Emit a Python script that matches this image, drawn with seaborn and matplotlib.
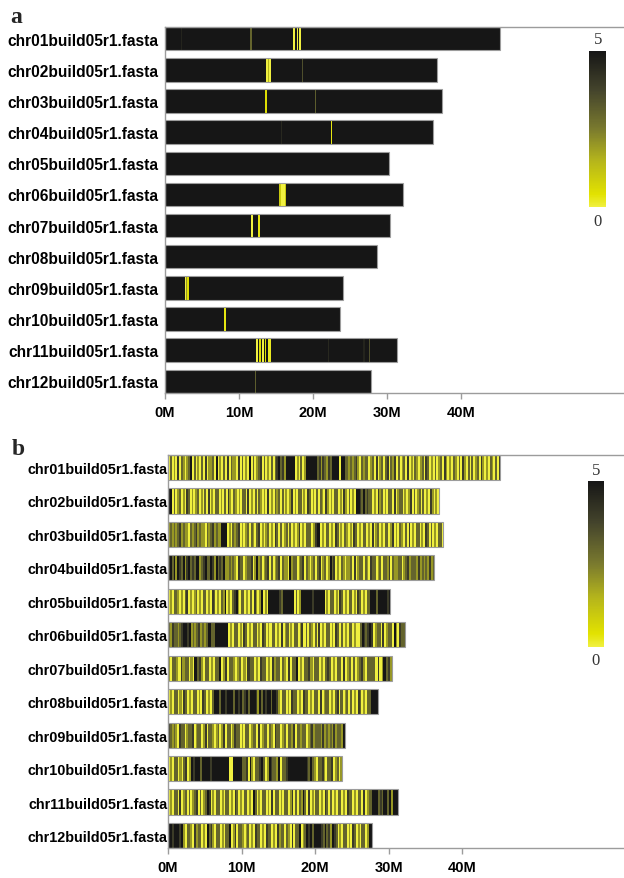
import numpy as np
import matplotlib
matplotlib.use("Agg")
import matplotlib.pyplot as plt
from matplotlib.colors import LinearSegmentedColormap
from matplotlib.patches import Rectangle
import seaborn as sns

# ---------------------------------------------------------------- data
CHROMS = [
    "chr01build05r1.fasta", "chr02build05r1.fasta", "chr03build05r1.fasta",
    "chr04build05r1.fasta", "chr05build05r1.fasta", "chr06build05r1.fasta",
    "chr07build05r1.fasta", "chr08build05r1.fasta", "chr09build05r1.fasta",
    "chr10build05r1.fasta", "chr11build05r1.fasta", "chr12build05r1.fasta",
]
CHROM_LEN_MB = [45.2, 36.8, 37.4, 36.2, 30.2, 32.2, 30.4, 28.6, 24.0, 23.7, 31.3, 27.8]

X_TICKS_MB = [0, 10, 20, 30, 40]
X_TICK_LABELS = ["0M", "10M", "20M", "30M", "40M"]
SCALE_MIN, SCALE_MAX = 0, 5

# panel a: background level plus the few windows that depart from it
A_BACKGROUND = 5.0
A_STRIPES = [
    [(2.2, 2.35, 4.6), (11.5, 11.7, 3.0), (17.25, 17.55, 0.0),
     (17.8, 17.95, 0.0), (18.1, 18.4, 0.0)],
    [(13.7, 13.9, 0.0), (13.9, 14.0, 1.5), (14.0, 14.3, 0.0), (18.45, 18.6, 3.5)],
    [(13.5, 13.8, 0.5), (20.2, 20.35, 3.2)],
    [(15.7, 15.85, 4.5), (22.4, 22.6, 0.3)],
    [],
    [(15.45, 15.7, 1.0), (15.7, 16.15, 0.0), (16.15, 16.35, 1.0)],
    [(11.6, 11.85, 0.0), (12.5, 12.8, 0.3)],
    [],
    [(2.7, 2.9, 0.0), (2.9, 3.0, 2.0), (3.0, 3.2, 0.5)],
    [(8.0, 8.25, 0.3)],
    [(12.25, 12.6, 0.0), (12.75, 12.95, 0.5), (13.1, 13.35, 0.0),
     (13.5, 13.7, 0.5), (13.85, 14.3, 0.2), (22.0, 22.15, 4.5),
     (26.8, 26.95, 4.6), (27.5, 27.65, 3.5)],
    [(12.1, 12.25, 3.2)],
]

# panel b: one level (0-5) per window along each chromosome
B_PROFILES = [
    "0302040320235030203040223050203040322040302050302340302030"
    "3453425" "5555" "020302" "555555" "34243243" "5555" "0" "55"
    "3323234203233023040230340324030230402032023043020302304202032030420303023042020320304",
    "55"
    "030230204302023020304020330203042032020330402030320204020323030202402033020430203032042020330204203020"
    "5543534"
    "330204230203304023302024030230302042020",
    "23232342322032342322032342322"
    "555"
    "0203234020230320340202302043030230302024020333024"
    "55"
    "0203302043020320204302033020402302033024020320304020330204303020330",
    "45352543524534355234533542534352"
    "23232043302334025230234030234032205233023403202303402302534020320223040233032043302303324032233023423332423232423",
    "0203320203402023020330204302032502034520330203042025020"
    "55555543555555" "0302" "5555554555555"
    "0203302043020330204302033"
    "55535555545",
    "32433234" "5545" "232342323" "55" "33" "5555555"
    "0203302043020330204302033020402302033024030320304020330204303020330200"
    "3543454"
    "02330402330520433",
    "20332042330205342033020335024033202302043302043302042330320403350203342033020343020330402303023420333304025342",
    "020330204302033020430203"
    "5553554555355453453555425354553554"
    "2033020433020433020330402330203403023030204302033"
    "5555",
    "432320433023340233024033202302403302433020330233040233032043302303324033233023423332423232423325",
    "020330203402" "54555355554555555555" "00" "55555"
    "334052033453025433250334" "5555555555" "4353203342033402302",
    "02033040230302340302354020330203302043020330205302033020403302033024030325304020330204303020330204330203304023"
    "355534355352555",
    "55455545"
    "203320423302053420330203350240332023020433020433020423303204033502"
    "354535555435342543"
    "0203302043020330255",
]

# ---------------------------------------------------------------- layout
RES = 0.05          # Mb per heatmap column
X_MAX_MB = 62.0
N_COL = int(round(X_MAX_MB / RES))
SUB = 4             # sub-rows per chromosome (3 drawn, 1 gap)

cmap = LinearSegmentedColormap.from_list(
    "dens",
    [(0.0, "#f0f040"), (0.08, "#e2e200"), (0.3, "#b4b41c"),
     (0.5, "#7a7a2e"), (0.75, "#44442c"), (1.0, "#161616")],
)


def grid_from_rows(rows):
    grid = np.full((12 * SUB - 1, N_COL), np.nan)
    for i, vals in enumerate(rows):
        grid[SUB * i:SUB * i + 3, :len(vals)] = vals
    return grid


def rows_panel_a():
    rows = []
    for L, stripes in zip(CHROM_LEN_MB, A_STRIPES):
        n = int(round(L / RES))
        vals = np.full(n, A_BACKGROUND)
        for s, e, v in stripes:
            vals[int(round(s / RES)):int(round(e / RES))] = v
        rows.append(vals)
    return rows


def rows_panel_b():
    rows = []
    for L, prof in zip(CHROM_LEN_MB, B_PROFILES):
        levels = np.array([float(c) for c in prof])
        n = int(round(L / RES))
        idx = (np.arange(n) * len(levels) // n).astype(int)
        rows.append(levels[idx])
    return rows


sns.set_theme(style="white")
plt.rcParams["font.family"] = ["Liberation Sans", "DejaVu Sans"]

fig = plt.figure(figsize=(6.24, 8.79), dpi=100)

panels = [
    dict(rows=rows_panel_a(), rect=[165 / 624, 1 - 394 / 879, 459 / 624, 366 / 879],
         cbar=[589 / 624, 1 - 208 / 879, 17 / 624, 156 / 879],
         tag="a", tag_xy=(10 / 624, 1 - 23 / 879), ylab_pad=5, ylab_size=11.2,
         five_y=40, zero_y=222, num_x=598),
    dict(rows=rows_panel_b(), rect=[168 / 624, 1 - 849 / 879, 456 / 624, 393 / 879],
         cbar=[588 / 624, 1 - 648 / 879, 16 / 624, 166 / 879],
         tag="b", tag_xy=(12 / 624, 1 - 455 / 879), ylab_pad=0.5, ylab_size=10.4,
         five_y=471, zero_y=661, num_x=596),
]

for p in panels:
    ax = fig.add_axes(p["rect"])
    cax = fig.add_axes(p["cbar"])
    grid = grid_from_rows(p["rows"])
    sns.heatmap(grid, ax=ax, cmap=cmap, vmin=SCALE_MIN, vmax=SCALE_MAX,
                cbar=True, cbar_ax=cax, xticklabels=False, yticklabels=False,
                rasterized=True)

    # thin outline around every chromosome bar
    for i, L in enumerate(CHROM_LEN_MB):
        ax.add_patch(Rectangle((0, SUB * i), L / RES, 3, fill=False,
                               edgecolor="#9c9c9c", linewidth=0.8, zorder=3))

    ax.set_xlim(0, N_COL)
    ax.set_ylim(12 * SUB - 1, 0)
    for side in ("left", "top", "bottom"):
        ax.spines[side].set_visible(True)
        ax.spines[side].set_color("#9c9c9c")
        ax.spines[side].set_linewidth(1.0)
    ax.spines["right"].set_visible(False)

    ax.set_xticks([m / RES for m in X_TICKS_MB])
    ax.set_xticklabels(X_TICK_LABELS, rotation=0, fontsize=10.5, fontweight="bold")
    ax.set_yticks([SUB * i + 1.5 for i in range(12)])
    ax.set_yticklabels(CHROMS, rotation=0, fontsize=p["ylab_size"], fontweight="bold")
    ax.tick_params(axis="x", bottom=True, length=4, width=1, color="#9c9c9c",
                   pad=5, labelcolor="black")
    ax.tick_params(axis="y", left=False, length=0, pad=p["ylab_pad"],
                   labelcolor="black")
    ax.set_xlabel("")
    ax.set_ylabel("")

    cbar = ax.collections[0].colorbar
    if cbar is not None:
        cbar.outline.set_visible(False)
    cax.set_yticks([])
    cax.set_xticks([])
    for s in cax.spines.values():
        s.set_visible(False)

    fig.text(p["tag_xy"][0], p["tag_xy"][1], p["tag"], fontsize=17,
             fontweight="bold", family="Liberation Serif", ha="left",
             va="baseline")
    fig.text(p["num_x"] / 624, 1 - p["five_y"] / 879, "5", fontsize=12,
             family="Liberation Serif", color="#333333", ha="center", va="center")
    fig.text(p["num_x"] / 624, 1 - p["zero_y"] / 879, "0", fontsize=12,
             family="Liberation Serif", color="#333333", ha="center", va="center")

fig.savefig("out.png", dpi=100)
